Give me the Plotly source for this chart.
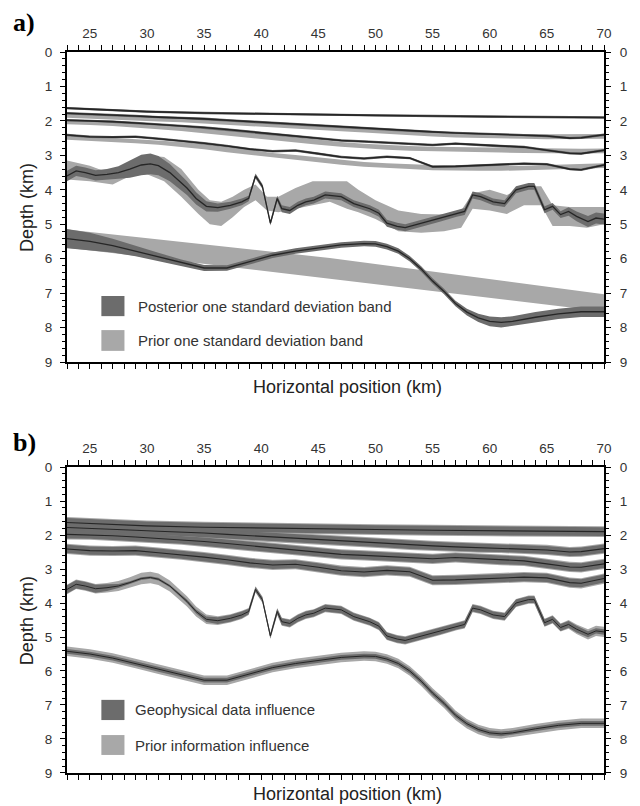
import plotly.graph_objects as go

# ---------------- data (depth in km, position in km) ----------------
X_TICKS = [25, 30, 35, 40, 45, 50, 55, 60, 65, 70]
Y_TICKS = [0, 1, 2, 3, 4, 5, 6, 7, 8, 9]

# horizon 1 (shallowest)
X_H1 = [23, 26, 30, 35, 40, 45, 50, 55, 60, 65, 70]
H1 = [1.63, 1.68, 1.73, 1.77, 1.80, 1.82, 1.84, 1.86, 1.88, 1.90, 1.90]

# horizons 2-4 share a grid
X_S = [23, 25, 27, 29, 31, 33, 35, 37, 39, 41, 43, 45, 47, 49, 51, 53, 55, 57, 59, 61, 63, 65, 67, 68, 70]
H2 = [1.78, 1.80, 1.83, 1.86, 1.89, 1.91, 1.94, 1.98, 2.02, 2.06, 2.09, 2.13, 2.17, 2.21, 2.25, 2.29, 2.32, 2.35, 2.37, 2.38, 2.40, 2.44, 2.50, 2.49, 2.40]
H3 = [1.98, 1.99, 2.02, 2.06, 2.10, 2.14, 2.19, 2.25, 2.31, 2.37, 2.44, 2.51, 2.57, 2.60, 2.63, 2.66, 2.70, 2.66, 2.70, 2.74, 2.76, 2.85, 2.94, 2.95, 2.85]
H4 = [2.41, 2.46, 2.47, 2.46, 2.52, 2.58, 2.65, 2.73, 2.82, 2.88, 2.86, 2.95, 3.05, 3.09, 3.04, 3.08, 3.33, 3.32, 3.30, 3.27, 3.24, 3.26, 3.40, 3.42, 3.28]
# prior means (panel a) for horizons 2-4
P2 = [1.84, 1.86, 1.89, 1.92, 1.95, 1.97, 2.00, 2.04, 2.08, 2.12, 2.15, 2.19, 2.23, 2.27, 2.31, 2.35, 2.38, 2.41, 2.43, 2.44, 2.45, 2.46, 2.46, 2.46, 2.45]
P3 = [2.03, 2.05, 2.08, 2.12, 2.17, 2.22, 2.28, 2.34, 2.41, 2.48, 2.55, 2.62, 2.68, 2.73, 2.77, 2.80, 2.82, 2.83, 2.84, 2.85, 2.86, 2.87, 2.88, 2.88, 2.87]
P4 = [2.48, 2.52, 2.55, 2.58, 2.62, 2.68, 2.75, 2.84, 2.93, 3.00, 3.06, 3.13, 3.20, 3.26, 3.30, 3.33, 3.36, 3.38, 3.38, 3.38, 3.37, 3.35, 3.33, 3.32, 3.30]
PRIOR_HW_UPPER = 0.07
POST_HW_UPPER = 0.035
GEO_HW_UPPER = [0.13, 0.12, 0.12, 0.12]      # panel b, H1..H4
PINF_HW_UPPER = [0.16, 0.15, 0.15, 0.15]

# horizon 5 (rough one)
X_W = [23, 23.8, 24.6, 25.5, 26.5, 27.5, 28.5, 29.5, 30.3, 31, 32, 32.8, 33.5, 34.3, 35.2, 36.2, 37.3, 38.3, 38.9, 39.5,
       40.1, 40.8, 41.4, 41.8, 42.5, 43.2, 43.9, 44.6, 45.6, 47, 48.1, 49.5, 50.3, 51, 51.9, 52.6, 54, 55.7, 57.1, 57.8,
       58.5, 59.2, 60.3, 61.3, 62.3, 63.4, 63.9, 64.8, 65.5, 66.2, 66.9, 67.6, 68.6, 69.3, 70]
H5 = [3.60, 3.45, 3.50, 3.58, 3.55, 3.50, 3.40, 3.28, 3.25, 3.30, 3.50, 3.75, 3.95, 4.25, 4.48, 4.52, 4.45, 4.35, 4.25, 3.60,
      3.90, 4.97, 4.25, 4.55, 4.60, 4.45, 4.35, 4.30, 4.15, 4.20, 4.40, 4.55, 4.68, 4.97, 5.06, 5.10, 4.97, 4.82, 4.68, 4.63,
      4.15, 4.20, 4.35, 4.40, 4.00, 3.90, 3.90, 4.58, 4.48, 4.72, 4.63, 4.77, 4.92, 4.82, 4.85]
H5_POST_HW = [0.15, 0.15, 0.15, 0.15, 0.15, 0.18, 0.25, 0.30, 0.30, 0.28, 0.25, 0.22, 0.20, 0.18, 0.15, 0.12,
              0.10, 0.10, 0.08, 0.07, 0.07, 0.07, 0.08, 0.10, 0.10,
              0.10, 0.10, 0.10, 0.10, 0.10, 0.10, 0.10, 0.10, 0.10, 0.10,
              0.10, 0.10, 0.10, 0.10, 0.10, 0.10, 0.10, 0.10, 0.10, 0.10,
              0.10, 0.10, 0.10, 0.10, 0.10, 0.12, 0.14, 0.16, 0.16, 0.16]
H5_GEO_HW = [0.12, 0.12, 0.12, 0.12, 0.10, 0.06, 0.04, 0.04, 0.04, 0.04, 0.04, 0.04, 0.05, 0.06, 0.08, 0.10,
             0.10, 0.10, 0.08, 0.07, 0.07, 0.07, 0.08, 0.10, 0.10,
             0.10, 0.10, 0.10, 0.10, 0.10, 0.10, 0.10, 0.10, 0.10, 0.10,
             0.10, 0.10, 0.10, 0.10, 0.10, 0.10, 0.10, 0.10, 0.10, 0.10,
             0.10, 0.10, 0.10, 0.10, 0.10, 0.10, 0.10, 0.09, 0.08, 0.08]
H5_PINF_HW = [0.14, 0.14, 0.14, 0.14, 0.14, 0.15, 0.16, 0.17, 0.17, 0.17, 0.16, 0.15, 0.15, 0.15, 0.14, 0.13,
              0.12, 0.12, 0.10, 0.09, 0.09, 0.09, 0.10, 0.12, 0.12,
              0.12, 0.12, 0.12, 0.12, 0.12, 0.12, 0.12, 0.12, 0.12, 0.12,
              0.12, 0.12, 0.12, 0.12, 0.12, 0.12, 0.12, 0.12, 0.12, 0.12,
              0.12, 0.12, 0.12, 0.12, 0.12, 0.13, 0.14, 0.15, 0.15, 0.15]
# prior band of horizon 5 (panel a)
X_P5 = [23, 25, 27, 28.5, 30, 31.5, 33, 34.5, 35.5, 36.5, 37.5, 38.5, 39.5, 40.5, 41.5, 43, 44.5, 46, 47.5, 48.5,
        50, 52, 54, 56, 57.5, 58.5, 60, 61.5, 63, 64.5, 65.5, 67, 68.5, 70]
P5_TOP = [3.15, 3.30, 3.55, 3.30, 3.00, 3.05, 3.40, 4.00, 4.30, 4.35, 4.20, 4.00, 3.85, 4.20, 4.20, 3.95, 3.75, 3.75, 3.75, 4.00,
          4.30, 4.60, 4.70, 4.72, 4.60, 4.10, 4.00, 4.15, 3.90, 3.90, 4.45, 4.50, 4.50, 4.50]
P5_BOT = [3.70, 3.75, 3.85, 3.60, 3.55, 3.75, 4.20, 4.70, 5.00, 5.05, 4.80, 4.50, 4.30, 4.60, 4.65, 4.55, 4.45, 4.35, 4.55, 4.65,
          4.85, 5.20, 5.25, 5.20, 5.10, 4.55, 4.60, 4.70, 4.45, 4.45, 5.05, 5.05, 5.10, 5.00]

# horizon 6 (deepest)
X_D = [23, 25, 27, 29, 31, 33, 35, 37, 39, 41, 43, 45, 47, 49, 50, 51, 52, 53, 54, 55, 56, 57, 58, 59, 60, 61, 62, 64, 66, 68, 70]
H6 = [5.42, 5.50, 5.62, 5.78, 5.95, 6.12, 6.27, 6.27, 6.08, 5.90, 5.78, 5.68, 5.60, 5.56, 5.57, 5.65, 5.78, 6.00, 6.30, 6.65,
      6.95, 7.30, 7.55, 7.72, 7.82, 7.85, 7.82, 7.70, 7.60, 7.54, 7.54]
H6_POST_HW = [0.28, 0.25, 0.20, 0.15, 0.12, 0.10, 0.09, 0.08, 0.08, 0.08, 0.08, 0.08, 0.08, 0.08, 0.08, 0.08, 0.08, 0.08, 0.08, 0.08,
              0.08, 0.08, 0.10, 0.12, 0.14, 0.15, 0.15, 0.15, 0.15, 0.15, 0.15]
H6_GEO_HW = 0.07
H6_PINF_HW = 0.14
X_P6 = [23, 46, 70]
P6_TOP = [5.15, 5.98, 7.03]
P6_BOT = [5.68, 6.58, 7.53]

LEGEND_A = ["Posterior one standard deviation band", "Prior one standard deviation band"]
LEGEND_B = ["Geophysical data influence", "Prior information influence"]

# ---------------- style ----------------
DARK = "#6c6c6c"
LIGHT = "#a8a8a8"
LINE = "#262626"
FONT = "Liberation Sans, Arial, sans-serif"

fig = go.Figure()


def band(x, lo, hi, color, xa, ya):
    fig.add_trace(go.Scatter(x=list(x) + list(x)[::-1], y=list(lo) + list(hi)[::-1],
                             fill="toself", fillcolor=color, mode="lines", line=dict(width=0),
                             hoverinfo="skip", showlegend=False, xaxis=xa, yaxis=ya))


def line(x, y, xa, ya, w):
    fig.add_trace(go.Scatter(x=x, y=y, mode="lines", line=dict(color=LINE, width=w),
                             hoverinfo="skip", showlegend=False, xaxis=xa, yaxis=ya))


def off(vals, hw, sign):
    if isinstance(hw, (int, float)):
        return [v + sign * hw for v in vals]
    return [v + sign * h for v, h in zip(vals, hw)]


# ---------- panel a ----------
xa, ya = "x", "y"
for P in (P2, P3, P4):
    band(X_S, off(P, PRIOR_HW_UPPER, -1), off(P, PRIOR_HW_UPPER, 1), LIGHT, xa, ya)
band(X_P5, P5_TOP, P5_BOT, LIGHT, xa, ya)
band(X_P6, P6_TOP, P6_BOT, LIGHT, xa, ya)
band(X_H1, off(H1, POST_HW_UPPER, -1), off(H1, POST_HW_UPPER, 1), DARK, xa, ya)
for H in (H2, H3, H4):
    band(X_S, off(H, POST_HW_UPPER, -1), off(H, POST_HW_UPPER, 1), DARK, xa, ya)
band(X_W, off(H5, H5_POST_HW, -1), off(H5, H5_POST_HW, 1), DARK, xa, ya)
band(X_D, off(H6, H6_POST_HW, -1), off(H6, H6_POST_HW, 1), DARK, xa, ya)
line(X_H1, H1, xa, ya, 1.6)
for H in (H2, H3, H4):
    line(X_S, H, xa, ya, 1.6)
line(X_W, H5, xa, ya, 1.3)
line(X_D, H6, xa, ya, 1.3)

# ---------- panel b ----------
xa, ya = "x2", "y2"
band(X_H1, off(H1, PINF_HW_UPPER[0], -1), off(H1, PINF_HW_UPPER[0], 1), LIGHT, xa, ya)
for H, hw in zip((H2, H3, H4), PINF_HW_UPPER[1:]):
    band(X_S, off(H, hw, -1), off(H, hw, 1), LIGHT, xa, ya)
band(X_W, off(H5, H5_PINF_HW, -1), off(H5, H5_PINF_HW, 1), LIGHT, xa, ya)
band(X_D, off(H6, H6_PINF_HW, -1), off(H6, H6_PINF_HW, 1), LIGHT, xa, ya)
band(X_H1, off(H1, GEO_HW_UPPER[0], -1), off(H1, GEO_HW_UPPER[0], 1), DARK, xa, ya)
for H, hw in zip((H2, H3, H4), GEO_HW_UPPER[1:]):
    band(X_S, off(H, hw, -1), off(H, hw, 1), DARK, xa, ya)
band(X_W, off(H5, H5_GEO_HW, -1), off(H5, H5_GEO_HW, 1), DARK, xa, ya)
band(X_D, off(H6, H6_GEO_HW, -1), off(H6, H6_GEO_HW, 1), DARK, xa, ya)
line(X_H1, H1, xa, ya, 1.1)
for H in (H2, H3, H4):
    line(X_S, H, xa, ya, 1.1)
line(X_W, H5, xa, ya, 1.0)
line(X_D, H6, xa, ya, 1.0)

# dummy traces so the right-hand label axes are drawn
fig.add_trace(go.Scatter(x=[None], y=[None], xaxis="x", yaxis="y3", showlegend=False, hoverinfo="skip"))
fig.add_trace(go.Scatter(x=[None], y=[None], xaxis="x2", yaxis="y4", showlegend=False, hoverinfo="skip"))

tickfont = dict(family=FONT, size=13.5, color="#333333")
xcommon = dict(range=[23, 70], side="top", tickmode="array", tickvals=X_TICKS, ticks="outside",
               ticklen=5, tickwidth=1.3, tickcolor="black", showline=True, linewidth=2, linecolor="black",
               mirror="allticks", showgrid=False, zeroline=False, tickfont=tickfont, ticklabelstandoff=2,
               minor=dict(dtick=1, ticks="outside", ticklen=3, tickwidth=1, tickcolor="black", showgrid=False))
ycommon = dict(range=[9, 0], tickmode="array", tickvals=Y_TICKS, ticks="outside", ticklen=5, tickwidth=1.3,
               tickcolor="black", showline=True, linewidth=2, linecolor="black", mirror="allticks",
               showgrid=False, zeroline=False, tickfont=tickfont, ticklabelstandoff=5,
               minor=dict(dtick=0.2, ticks="outside", ticklen=3, tickwidth=1, tickcolor="black", showgrid=False))
yright = dict(range=[9, 0], tickmode="array", tickvals=Y_TICKS, side="right", ticks="outside", ticklen=6,
              tickwidth=1.3, tickcolor="black", showline=False, showgrid=False, zeroline=False, tickfont=tickfont,
              ticklabelstandoff=6)

A_DOM = [0.570, 1.0]
B_DOM = [0.0, 0.4244]

fig.update_layout(
    width=640, height=806, margin=dict(l=67, r=23, t=52, b=33),
    paper_bgcolor="white", plot_bgcolor="white",
    font=dict(family=FONT, color="#333333"),
    xaxis=dict(domain=[0, 1], anchor="y", **xcommon),
    yaxis=dict(domain=A_DOM, anchor="x", **ycommon),
    xaxis2=dict(domain=[0, 1], anchor="y2", **xcommon),
    yaxis2=dict(domain=B_DOM, anchor="x2", **ycommon),
    yaxis3=dict(overlaying="y", anchor="x", **yright),
    yaxis4=dict(overlaying="y2", anchor="x2", **yright),
)

# legend swatches and texts
def legend(xdom_ref, ydom_ref, boxes, labels, text_x):
    colors = [DARK, LIGHT]
    for (y0, y1), lab, col in zip(boxes, labels, colors):
        fig.add_shape(type="rect", xref=xdom_ref, yref=ydom_ref, x0=0.064, x1=0.107, y0=y0, y1=y1,
                      fillcolor=col, line=dict(width=0), layer="above")
        fig.add_annotation(xref=xdom_ref, yref=ydom_ref, x=text_x, y=(y0 + y1) / 2, text=lab,
                           showarrow=False, xanchor="left", yanchor="middle",
                           font=dict(family=FONT, size=15, color="#333333"))


legend("x domain", "y domain", [(0.148, 0.213), (0.036, 0.103)], LEGEND_A, 0.128)
legend("x2 domain", "y2 domain", [(0.173, 0.239), (0.059, 0.124)], LEGEND_B, 0.122)

# titles and panel letters
for ytitle, ydepth, yletter, letter in ((0.536, 0.785, 1.0416, "a)"), (-0.0290, 0.212, 0.459, "b)")):
    fig.add_annotation(xref="paper", yref="paper", x=0.522, y=ytitle, text="Horizontal position (km)",
                       showarrow=False, xanchor="center", yanchor="middle",
                       font=dict(family=FONT, size=18, color="#222222"))
    fig.add_annotation(xref="paper", yref="paper", x=-0.0745, y=ydepth, text="Depth (km)", textangle=-90,
                       showarrow=False, xanchor="center", yanchor="middle",
                       font=dict(family=FONT, size=18, color="#222222"))
    fig.add_annotation(xref="paper", yref="paper", x=-0.080, y=yletter, text="<b>" + letter + "</b>",
                       showarrow=False, xanchor="center", yanchor="middle",
                       font=dict(family="Liberation Serif, Times New Roman, serif", size=26, color="black"))

fig.write_html("out.html")
